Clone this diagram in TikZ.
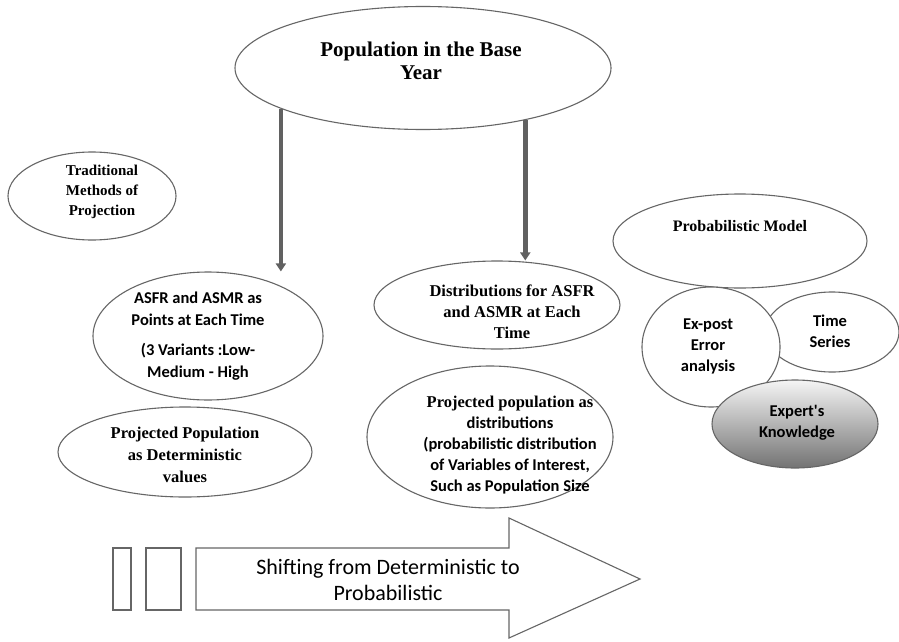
\documentclass[tikz,border=0pt]{standalone}
\usepackage{fontspec}
\setmainfont{Liberation Serif}
\newfontfamily\calib{Carlito}
\usetikzlibrary{arrows.meta,shapes.geometric}
\begin{document}
\begin{tikzpicture}[x=1pt,y=-1pt,
  ell/.style={ellipse,draw=black!60,line width=1.1pt,fill=white,inner sep=0pt},
  ser/.style={align=center,inner sep=0pt,font=\bfseries\fontsize{16.5}{21}\selectfont,text=black},
  san/.style={align=center,inner sep=0pt,font=\calib\bfseries\fontsize{16.5}{21}\selectfont,text=black},
  garr/.style={line width=4.5pt,draw=black!62,-{Triangle[width=10pt,length=8pt]}},
  outl/.style={draw=black!60,line width=1.1pt,fill=white}]
\useasboundingbox (0,0) rectangle (899,642);
\fill[white] (0,0) rectangle (899,642);

% ellipses
\node[ell,minimum width=376,minimum height=123] (pop) at (423,68) {};
\node[ser,font=\bfseries\fontsize{21}{23}\selectfont] (popt) at ([xshift=-2,yshift=7]pop.center) {Population in the Base\\Year};

\node[ell,minimum width=168,minimum height=88] (trad) at (92,196) {};
\node[ser,font=\bfseries\fontsize{15}{20}\selectfont] (tradt) at ([xshift=10,yshift=4]trad.center) {Traditional\\Methods of\\Projection};

\node[ell,minimum width=230,minimum height=128] (asfr) at (208,336) {};
\node[san,font=\calib\bfseries\fontsize{16.5}{22}\selectfont] (asfrt) at ([xshift=-10]asfr.center) {ASFR and ASMR as\\Points at Each Time\\[8pt](3 Variants :Low-\\Medium - High};

\node[ell,minimum width=254,minimum height=90] (det) at (185,452) {};
\node[ser,font=\bfseries\fontsize{16.5}{22}\selectfont] (dett) at ([yshift=-3]det.center) {Projected Population\\as Deterministic\\values};

\node[ell,minimum width=246,minimum height=88] (dist) at (497,305) {};
\node[ser] (distt) at ([xshift=15,yshift=-7]dist.center) {Distributions for ASFR\\and ASMR at Each\\Time};

\node[ell,minimum width=246,minimum height=142] (pdist) at (490,437) {};
\node[san,font=\calib\bfseries\fontsize{16.5}{21}\selectfont] (pdistt) at ([xshift=20,yshift=-8]pdist.center) {{\rmfamily Projected population as}\\distributions\\(probabilistic distribution\\of Variables of Interest,\\Such as Population Size};

\node[ell,minimum width=254,minimum height=94] (prob) at (740,241) {};
\node[ser,font=\bfseries\fontsize{16}{20}\selectfont] (probt) at ([yshift=15]prob.center) {Probabilistic Model};

\node[ell,minimum width=134,minimum height=80] (ts) at (832,332) {};
\node[san] (tst) at (830,331) {Time\\Series};

\node[ell,minimum width=138,minimum height=120] (ep) at (711,347) {};
\node[san] (ept) at (708,346) {Ex-post\\Error\\analysis};

\node[ell,minimum width=166,minimum height=88,top color=white!96!black,middle color=black!20,bottom color=black!55] (exp) at (795,424) {};
\node[san] (expt) at (797,423) {Expert's\\Knowledge};

% arrows from base-year population
\draw[garr] (pop.196) -- (pop.196 |- asfr.north);
\draw[garr] (pop.-27.5) -- (pop.-27.5 |- dist.north);

% bottom shifting arrow
\draw[outl] (113,548) rectangle (131,610);
\draw[outl] (146,548) rectangle (181,610);
\draw[outl] (196,548) -- (509,548) -- (509,518) -- (640,579) -- (509,638) -- (509,610) -- (196,610) -- cycle;
\node[san,font=\calib\fontsize{22}{26}\selectfont] (shift) at (388,580) {Shifting from Deterministic to\\Probabilistic};
\end{tikzpicture}
\end{document}
